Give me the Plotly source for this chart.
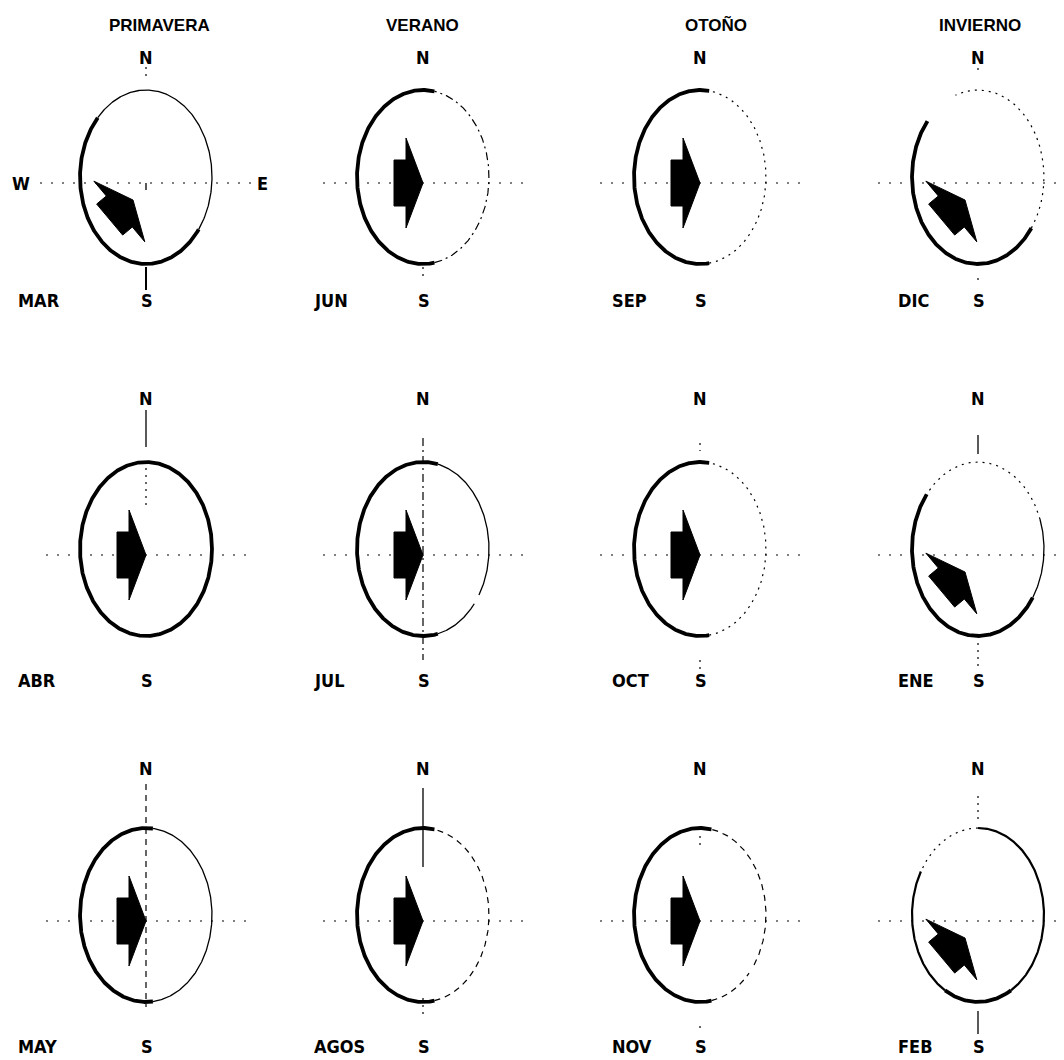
import numpy as np
import plotly.graph_objects as go

# ---------------- data ----------------
seasons = ["PRIMAVERA", "VERANO", "OTOÑO", "INVIERNO"]
months = ["MAR", "ABR", "MAY", "JUN", "JUL", "AGOS", "SEP", "OCT", "NOV", "DIC", "ENE", "FEB"]
season_of_month = [0, 0, 0, 1, 1, 1, 2, 2, 2, 3, 3, 3]
row_of_month = [0, 1, 2, 0, 1, 2, 0, 1, 2, 0, 1, 2]
# compass bearing (deg) the dominant-wind arrow points to
arrow_bearing = [50, 90, 90, 90, 90, 90, 90, 90, 90, 50, 50, 50]
# bold sector of the rose outline (math angle, deg, counter-clockwise from E)
bold_from = [137, 0, 84, 80, 77, 80, 82, 82, 80, 140, 141, 240]
bold_to = [323, 360, 276, 280, 283, 280, 278, 278, 280, 324, 326, 300]

# ---------------- layout / style ----------------
# the page body has an 8px margin: the figure is sized so that axis units equal window pixels
OFF = 8
W, H = 1064, 1060
COL_X = [146, 423, 700, 978]
ROW_Y = [183, 555, 921]
N_Y = [57, 398, 768]
S_Y = [300, 680, 1046]
MONTH_X = [16, 312, 610, 896]
TITLE_X = [159, 422, 716, 980]
RX, RY, ELL_DY = 66, 87, -6

thin_arcs = {
    "MAR": [(323, 497, "solid")],
    "ABR": [],
    "MAY": [(276, 444, "solid")],
    "JUN": [(280, 440, "dashdot")],
    "JUL": [(283, 321, "solid"), (328, 437, "solid")],
    "AGOS": [(280, 440, "dash")],
    "SEP": [(278, 442, "dot")],
    "OCT": [(278, 442, "dot")],
    "NOV": [(280, 318, "dash"), (325, 440, "dash")],
    "DIC": [(324, 470, "dot")],
    "ENE": [(326, 380, "solid"), (380, 501, "dot")],
    "FEB": [(300, 450, "medium"), (150, 240, "medium"), (90, 150, "dot")],
}
# vertical N/S axis marks: (offset from centre y1, y2, style)
v_marks = {
    "MAR": [(-116, -105, "dot"), (84, 107, "solid2"), (0, 7, "solid")],
    "ABR": [(-145, -108, "solid"), (-94, -45, "dot")],
    "MAY": [(-137, 86, "dash")],
    "JUN": [(84, 98, "dot")],
    "JUL": [(-117, 105, "dashdot")],
    "AGOS": [(-133, -54, "solid"), (77, 95, "dot")],
    "SEP": [],
    "OCT": [(-112, -104, "dot"), (105, 115, "dot")],
    "NOV": [(-85, -75, "dot"), (105, 112, "dot")],
    "DIC": [(-115, -109, "dot"), (95, 101, "dot")],
    "ENE": [(-120, -101, "solid"), (88, 112, "dot")],
    "FEB": [(-125, -102, "dot"), (90, 113, "solid")],
}
h_extent = {"MAR": (-106, 106)}

STYLES = {
    "thick": dict(width=3.8, dash="solid"),
    "medium": dict(width=2.2, dash="solid"),
    "solid": dict(width=1.3, dash="solid"),
    "solid2": dict(width=2.0, dash="solid"),
    "dash": dict(width=1.2, dash="6px,5px"),
    "dashdot": dict(width=1.2, dash="8px,4px,2px,4px"),
    "dot": dict(width=1.2, dash="2px,5px"),
    "axis": dict(width=1.1, dash="2px,9px"),
}

fig = go.Figure()


def add_line(xs, ys, style):
    st = STYLES[style]
    fig.add_trace(go.Scatter(x=xs, y=ys, mode="lines",
                             line=dict(color="black", width=st["width"], dash=st["dash"]),
                             hoverinfo="skip", showlegend=False))


def arc(cx, cy, t0, t1, style):
    t = np.radians(np.linspace(t0, t1, max(8, int(abs(t1 - t0) * 1.5))))
    add_line(cx + RX * np.cos(t), cy - RY * np.sin(t), style)


# arrow template (apex at origin, pointing +u)
ARROW_U = [0, -17, -17, -29, -29, -17, -17, 0]
ARROW_V = [0, 45, 23, 23, -23, -23, -45, 0]

annotations = []
FONT_LBL = "Liberation Sans Narrow, DejaVu Sans Condensed, Liberation Sans"
LBL = dict(family=FONT_LBL, size=18, color="black")

for i, m in enumerate(months):
    col, row = season_of_month[i], row_of_month[i]
    cx, cy = COL_X[col], ROW_Y[row]
    ex, ey = cx, cy + ELL_DY

    # horizontal axis
    x0, x1 = h_extent.get(m, (-100, 100))
    add_line([cx + x0, cx + x1], [cy, cy], "axis")
    # vertical marks
    for (a, b, st) in v_marks[m]:
        add_line([cx, cx], [cy + a, cy + b], st)

    # outline
    arc(ex, ey, bold_from[i], bold_to[i], "thick")
    for (a, b, st) in thin_arcs[m]:
        arc(ex, ey, a, b, st)

    # arrow
    th = np.radians(90 - arrow_bearing[i])
    if arrow_bearing[i] == 90:
        ax_, ay_, su, sv = cx, cy, 1.0, 1.0
    else:
        ax_, ay_, su, sv = cx - 13, cy + 17, 1.05, 0.88
    u = np.array(ARROW_U) * su
    v = np.array(ARROW_V) * sv
    px = ax_ + u * np.cos(th) - v * np.sin(th)
    py = ay_ - (u * np.sin(th) + v * np.cos(th))
    fig.add_trace(go.Scatter(x=px, y=py, mode="lines", fill="toself",
                             fillcolor="black", line=dict(color="black", width=1),
                             hoverinfo="skip", showlegend=False))

    # labels
    annotations.append(dict(x=cx, y=N_Y[row], text="<b>N</b>", showarrow=False,
                            xanchor="center", yanchor="middle", font=LBL))
    annotations.append(dict(x=cx + 1, y=S_Y[row], text="<b>S</b>", showarrow=False,
                            xanchor="center", yanchor="middle", font=LBL))
    annotations.append(dict(x=MONTH_X[col], y=S_Y[row], text="<b>" + m + "</b>",
                            showarrow=False, xanchor="left", yanchor="middle", font=LBL))

# W / E on first rose
annotations.append(dict(x=21, y=ROW_Y[0], text="<b>W</b>", showarrow=False,
                        xanchor="center", yanchor="middle", font=LBL))
annotations.append(dict(x=262, y=ROW_Y[0], text="<b>E</b>", showarrow=False,
                        xanchor="center", yanchor="middle", font=LBL))

for k, s in enumerate(seasons):
    annotations.append(dict(x=TITLE_X[k], y=25, text="<b>" + s + "</b>", showarrow=False,
                            xanchor="center", yanchor="middle",
                            font=dict(family="Liberation Sans", size=17, color="black")))

fig.update_layout(
    width=W - OFF, height=H - OFF, autosize=False,
    margin=dict(l=0, r=0, t=0, b=0, pad=0),
    paper_bgcolor="white", plot_bgcolor="white",
    xaxis=dict(range=[OFF, W], visible=False, fixedrange=True),
    yaxis=dict(range=[H, OFF], visible=False, fixedrange=True),
    annotations=annotations,
)

fig.write_html("out.html")
